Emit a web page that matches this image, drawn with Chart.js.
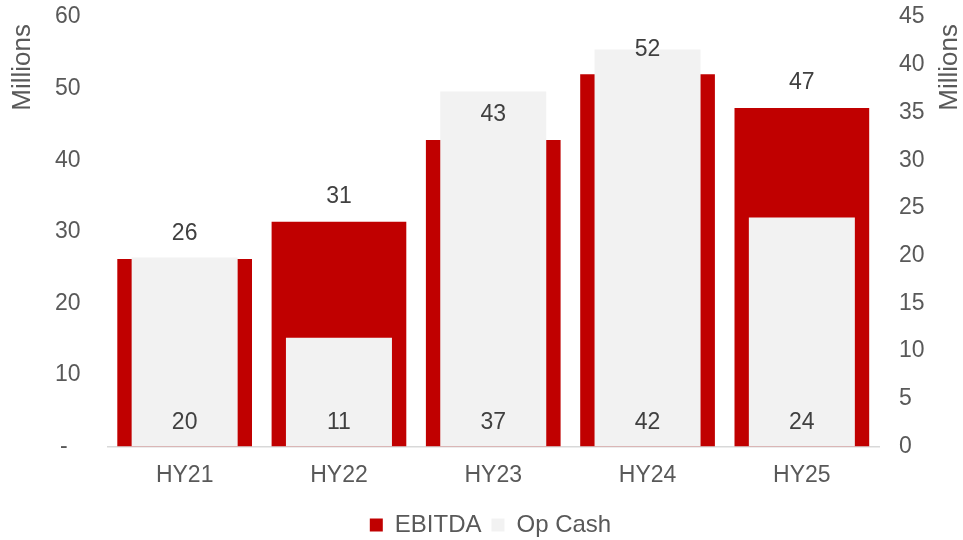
<!DOCTYPE html>
<html>
<head>
<meta charset="utf-8">
<script src="https://cdn.jsdelivr.net/npm/chart.js@4.4.1/dist/chart.umd.min.js"></script>
<style>
  html, body { margin: 0; padding: 0; background: #fff; }
  #wrap { width: 963px; height: 540px; }
</style>
</head>
<body>
<div id="wrap"><canvas id="ebitdaChart" width="963" height="540"></canvas></div>
<script>
// values (Millions)
const periods = ['HY21', 'HY22', 'HY23', 'HY24', 'HY25'];
const ebitda = [26.2, 31.4, 42.8, 52.0, 47.3];   // left axis
const opCash = [19.8, 11.4, 37.2, 41.6, 24.0];   // right axis
const leftTicks = [0, 10, 20, 30, 40, 50, 60];
const rightTicks = [0, 5, 10, 15, 20, 25, 30, 35, 40, 45];

const FONT = "'Liberation Sans', Arial, sans-serif";
Chart.defaults.font.family = FONT;
Chart.defaults.font.size = 23;
Chart.defaults.color = '#595959';

// bar value labels: EBITDA above the red bar, Op Cash at the base of the grey bar
const valueLabels = {
  id: 'valueLabels',
  afterDatasetsDraw(chart) {
    const ctx = chart.ctx;
    ctx.save();
    ctx.font = '23px ' + FONT;
    ctx.fillStyle = '#404040';
    ctx.textAlign = 'center';
    ctx.textBaseline = 'middle';
    chart.getDatasetMeta(0).data.forEach((bar, i) => {
      ctx.fillText(Math.round(ebitda[i]), bar.x, bar.y - 25);
    });
    chart.getDatasetMeta(1).data.forEach((bar, i) => {
      ctx.fillText(Math.round(opCash[i]), bar.x, bar.base - 24);
    });
    ctx.restore();
  }
};

// both "Millions" titles read bottom-to-top, at the top of each axis
const axisTitles = {
  id: 'axisTitles',
  afterDraw(chart) {
    const ctx = chart.ctx;
    const top = chart.chartArea.top;
    ctx.save();
    ctx.font = '26px ' + FONT;
    ctx.fillStyle = '#595959';
    ctx.textAlign = 'right';
    ctx.textBaseline = 'middle';
    [23, 950].forEach(x => {
      ctx.save();
      ctx.translate(x, top + 7);
      ctx.rotate(-Math.PI / 2);
      ctx.fillText('Millions', 0, 0);
      ctx.restore();
    });
    ctx.restore();
  }
};

// fixed axis sizes so the plot area sits where it does in the picture
function fitY(width) {
  return s => {
    s.width = width;
    s.paddingTop = 0;
    s.paddingBottom = 0;
  };
}

const chart = new Chart(document.getElementById('ebitdaChart').getContext('2d'), {
  type: 'bar',
  data: {
    labels: periods,
    datasets: [
      {
        label: 'EBITDA',
        data: ebitda,
        yAxisID: 'y',
        backgroundColor: '#C00000',
        borderWidth: 0,
        grouped: false,
        categoryPercentage: 1,
        barPercentage: 0.873,
        order: 1
      },
      {
        label: 'Op Cash',
        data: opCash,
        yAxisID: 'y1',
        backgroundColor: '#F2F2F2',
        borderWidth: 0,
        grouped: false,
        categoryPercentage: 1,
        barPercentage: 0.687,
        order: 0
      }
    ]
  },
  options: {
    responsive: false,
    maintainAspectRatio: false,
    animation: false,
    // left padding nudges the legend right; the left axis is narrowed to match
    layout: { padding: { top: 17, bottom: -7, left: 18, right: 0 } },
    scales: {
      x: {
        grid: { display: false, drawTicks: false },
        border: { display: true, color: '#D9D9D9', width: 1.5 },
        ticks: { padding: 15, color: '#595959' },
        afterFit: s => { s.height = 56.5; }
      },
      y: {
        position: 'left',
        min: 0,
        max: 60,
        grid: { display: false, drawTicks: false },
        border: { display: false },
        afterBuildTicks: s => { s.ticks = leftTicks.map(v => ({ value: v })); },
        ticks: {
          padding: 27,
          callback: v => v === 0 ? '-  ' : v
        },
        afterFit: fitY(89.5)
      },
      y1: {
        position: 'right',
        min: 0,
        max: 45,
        grid: { display: false, drawTicks: false },
        border: { display: false },
        afterBuildTicks: s => { s.ticks = rightTicks.map(v => ({ value: v })); },
        ticks: { padding: 20 },
        afterFit: fitY(84)
      }
    },
    plugins: {
      legend: {
        position: 'bottom',
        labels: {
          boxWidth: 13,
          boxHeight: 13,
          padding: 10,
          color: '#595959',
          font: { size: 24 },
          sort: (a, b) => a.datasetIndex - b.datasetIndex
        }
      },
      tooltip: { enabled: false }
    }
  },
  plugins: [valueLabels, axisTitles]
});
</script>
</body>
</html>
